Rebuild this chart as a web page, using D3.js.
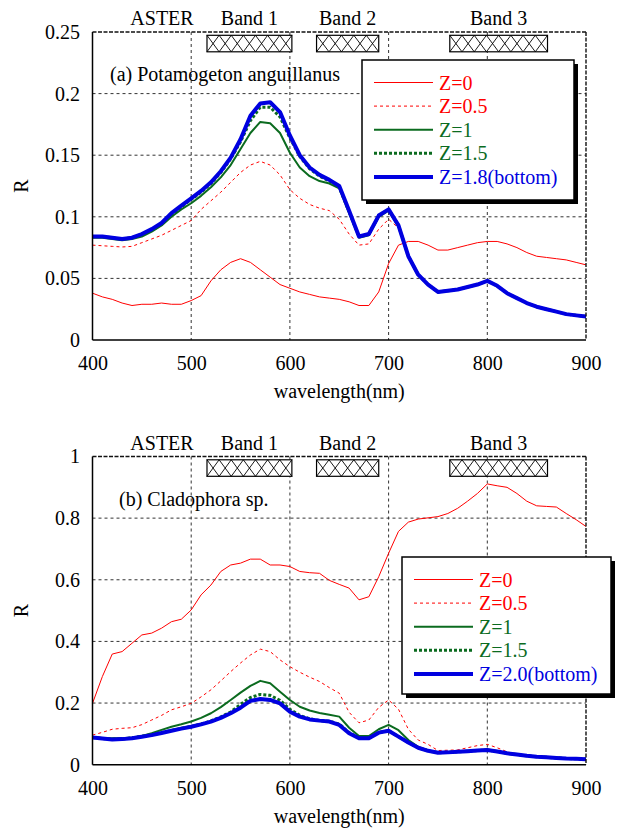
<!DOCTYPE html>
<html>
<head>
<meta charset="utf-8">
<script src="https://cdn.jsdelivr.net/npm/d3@7/dist/d3.min.js"></script>
<style>
body { margin: 0; background: #fff; }
svg text { font-family: "Liberation Serif", "Times New Roman", serif; }
</style>
</head>
<body>
<svg id="chart"></svg>
<script>
// wavelength grid (nm)
var wavelengths = [400,410,420,430,440,450,460,470,480,490,
                   500,510,520,530,540,550,560,570,580,590,
                   600,610,620,630,640,650,660,670,680,690,
                   700,710,720,730,740,750,760,770,780,790,
                   800,810,820,830,840,850,860,870,880,890,900]
var xTicks = [400,500,600,700,800,900]
var xGrid = [500,600,700,800]

// ASTER bands as drawn in the figure
var bandNames = ["Band 1","Band 2","Band 3"]
var bandStart = [516,627,762]
var bandEnd = [602,690,861]

// (a) Potamogeton anguillanus
var topTicks = [0,0.05,0.1,0.15,0.2,0.25]
var topTickLabels = ["0","0.05","0.1","0.15","0.2","0.25"]
var topLabels = ["Z=0","Z=0.5","Z=1","Z=1.5","Z=1.8(bottom)"]
var topZ0 = [0.038,0.035,0.033,0.030,0.028,0.029,0.029,0.030,0.029,0.029,
             0.032,0.036,0.048,0.057,0.063,0.066,0.063,0.057,0.051,0.045,
             0.042,0.039,0.037,0.035,0.034,0.033,0.031,0.028,0.028,0.039,
             0.062,0.077,0.080,0.080,0.077,0.073,0.073,0.075,0.077,0.079,
             0.080,0.080,0.078,0.075,0.071,0.068,0.067,0.066,0.065,0.063,0.061]
var topZ05 = [0.077,0.0765,0.076,0.0755,0.076,0.079,0.082,0.085,0.089,0.093,
              0.097,0.106,0.113,0.120,0.128,0.136,0.142,0.145,0.142,0.134,
              0.122,0.115,0.110,0.107,0.105,0.098,0.086,0.077,0.078,0.090,
              0.098,0.091,0.069,0.053,0.045,0.039,0.040,0.041,0.043,0.045,
              0.048,0.044,0.038,0.034,0.030,0.027,0.025,0.023,0.021,0.020,0.019]
var topZ1 = [0.083,0.083,0.082,0.081,0.082,0.084,0.088,0.093,0.100,0.106,
             0.111,0.117,0.124,0.132,0.142,0.155,0.168,0.177,0.176,0.168,
             0.152,0.140,0.133,0.129,0.127,0.123,0.103,0.083,0.085,0.100,
             0.105,0.092,0.068,0.053,0.045,0.039,0.040,0.041,0.043,0.045,
             0.048,0.044,0.038,0.034,0.030,0.027,0.025,0.023,0.021,0.020,0.019]
var topZ15 = [0.084,0.084,0.083,0.082,0.083,0.086,0.089,0.094,0.102,0.108,
              0.114,0.120,0.127,0.136,0.147,0.161,0.178,0.189,0.189,0.181,
              0.164,0.149,0.139,0.133,0.129,0.124,0.104,0.084,0.086,0.101,
              0.106,0.093,0.068,0.053,0.045,0.039,0.040,0.041,0.043,0.045,
              0.048,0.044,0.038,0.034,0.030,0.027,0.025,0.023,0.021,0.020,0.019]
var topZ18 = [0.084,0.084,0.083,0.082,0.083,0.086,0.090,0.095,0.103,0.109,
              0.115,0.121,0.128,0.137,0.148,0.163,0.182,0.192,0.193,0.185,
              0.166,0.150,0.140,0.134,0.130,0.125,0.105,0.084,0.086,0.101,
              0.106,0.093,0.068,0.053,0.045,0.039,0.040,0.041,0.043,0.045,
              0.048,0.044,0.038,0.034,0.030,0.027,0.025,0.023,0.021,0.020,0.019]

// (b) Cladophora sp.
var botTicks = [0,0.2,0.4,0.6,0.8,1]
var botTickLabels = ["0","0.2","0.4","0.6","0.8","1"]
var botLabels = ["Z=0","Z=0.5","Z=1","Z=1.5","Z=2.0(bottom)"]
var botZ0 = [0.199,0.286,0.359,0.367,0.394,0.421,0.427,0.443,0.464,0.472,
             0.502,0.551,0.583,0.627,0.648,0.654,0.667,0.667,0.648,0.648,
             0.643,0.627,0.623,0.621,0.598,0.585,0.573,0.535,0.545,0.610,
             0.686,0.757,0.787,0.797,0.801,0.805,0.815,0.832,0.855,0.880,
             0.911,0.905,0.900,0.880,0.855,0.840,0.838,0.836,0.815,0.795,0.773]
var botZ05 = [0.096,0.105,0.115,0.118,0.120,0.130,0.145,0.160,0.178,0.188,
              0.199,0.220,0.243,0.272,0.302,0.330,0.356,0.375,0.367,0.340,
              0.318,0.300,0.284,0.270,0.250,0.232,0.170,0.136,0.145,0.186,
              0.210,0.180,0.115,0.080,0.066,0.046,0.047,0.048,0.055,0.062,
              0.066,0.055,0.042,0.034,0.029,0.025,0.023,0.022,0.020,0.019,0.018]
var botZ1 = [0.089,0.087,0.086,0.086,0.088,0.093,0.102,0.113,0.123,0.131,
             0.140,0.152,0.167,0.187,0.210,0.234,0.256,0.272,0.264,0.237,
             0.210,0.188,0.176,0.168,0.162,0.156,0.120,0.093,0.093,0.115,
             0.129,0.112,0.080,0.058,0.047,0.040,0.041,0.042,0.045,0.047,
             0.049,0.044,0.038,0.034,0.030,0.027,0.025,0.023,0.021,0.019,0.018]
var botZ15 = [0.088,0.085,0.083,0.083,0.087,0.092,0.097,0.104,0.111,0.118,
              0.124,0.132,0.142,0.155,0.171,0.196,0.218,0.228,0.225,0.209,
              0.180,0.160,0.149,0.143,0.141,0.132,0.104,0.087,0.087,0.105,
              0.110,0.091,0.072,0.055,0.045,0.039,0.040,0.042,0.044,0.046,
              0.048,0.043,0.037,0.033,0.029,0.026,0.024,0.022,0.020,0.019,0.018]
var botZ20 = [0.088,0.085,0.082,0.083,0.086,0.091,0.096,0.103,0.110,0.117,
              0.123,0.131,0.140,0.152,0.167,0.185,0.207,0.213,0.210,0.199,
              0.172,0.156,0.147,0.143,0.140,0.129,0.102,0.086,0.086,0.104,
              0.110,0.091,0.072,0.055,0.045,0.039,0.040,0.042,0.044,0.046,
              0.048,0.043,0.037,0.033,0.029,0.026,0.024,0.022,0.020,0.019,0.018]

var lineColors = ["#ff0000","#ff0000","#0b6b1f","#0b6b1f","#0000e0"]
var lineWidths = [1,1,2,3,4]
var lineDash = [null,"3,3",null,"3,2",null]

var screen = {width: 617, height: 831}
var plotLeft = 92.5, plotRight = 586

var svg = d3.select("#chart")
    .attr("width", screen.width)
    .attr("height", screen.height)

svg.append("rect").attr("width", screen.width).attr("height", screen.height).attr("fill", "#fff")

var xScale = d3.scaleLinear().domain([400, 900]).range([plotLeft, plotRight])

var drawPanel = function(p)
{
    var yScale = d3.scaleLinear().domain([0, p.yMax]).range([p.bottom, p.top])
    var g = svg.append("g")

    // grid
    g.selectAll(".vgrid").data(xGrid).enter().append("line")
        .attr("x1", function(d){ return xScale(d) })
        .attr("x2", function(d){ return xScale(d) })
        .attr("y1", p.top).attr("y2", p.bottom)
        .attr("stroke", "#333").attr("stroke-width", 1).attr("stroke-dasharray", "3,3")
    g.selectAll(".hgrid").data(p.ticks.slice(1, -1)).enter().append("line")
        .attr("x1", plotLeft).attr("x2", plotRight)
        .attr("y1", function(d){ return yScale(d) })
        .attr("y2", function(d){ return yScale(d) })
        .attr("stroke", "#333").attr("stroke-width", 1).attr("stroke-dasharray", "3,3")

    // ASTER band boxes (cross hatched)
    var bands = bandNames.map(function(name, i){ return {name: name, s: bandStart[i], e: bandEnd[i]} })
    bands.forEach(function(b)
    {
        var x0 = xScale(b.s), x1 = xScale(b.e)
        var y0 = p.top + 3.3, h = 16.5
        var n = Math.round((x1 - x0) / 12.2)
        var cw = (x1 - x0) / n
        g.append("rect").attr("x", x0).attr("y", y0).attr("width", x1 - x0).attr("height", h)
            .attr("fill", "#fff").attr("stroke", "#000").attr("stroke-width", 1.2)
        for (var i = 0; i < n; i++)
        {
            g.append("line").attr("x1", x0 + i*cw).attr("y1", y0).attr("x2", x0 + (i+1)*cw).attr("y2", y0 + h)
                .attr("stroke", "#000").attr("stroke-width", 0.9)
            g.append("line").attr("x1", x0 + (i+1)*cw).attr("y1", y0).attr("x2", x0 + i*cw).attr("y2", y0 + h)
                .attr("stroke", "#000").attr("stroke-width", 0.9)
        }
        g.append("text").attr("x", xScale((bandStart[0] + bandEnd[0]) / 2) + (x0 + x1) / 2 - xScale((bandStart[0] + bandEnd[0]) / 2))
            .attr("y", p.top - 7)
            .attr("text-anchor", "middle").attr("font-size", 20).text(b.name)
    })
    g.append("text").attr("x", 162).attr("y", p.top - 7)
        .attr("text-anchor", "middle").attr("font-size", 20).text("ASTER")

    // curves
    var line = d3.line()
        .x(function(d){ return xScale(d[0]) })
        .y(function(d){ return yScale(d[1]) })
    p.series.forEach(function(s, i)
    {
        g.append("path")
            .datum(wavelengths.map(function(w, j){ return [w, s[j]] }))
            .attr("d", line)
            .attr("fill", "none")
            .attr("stroke", lineColors[i])
            .attr("stroke-width", lineWidths[i])
            .attr("stroke-dasharray", lineDash[i])
            .attr("stroke-linejoin", "round")
    })

    // frame: solid left/bottom, dashed top/right
    g.append("line").attr("x1", plotLeft).attr("x2", plotRight).attr("y1", p.top).attr("y2", p.top)
        .attr("stroke", "#111").attr("stroke-width", 1.4).attr("stroke-dasharray", "4,1.5")
    g.append("line").attr("x1", plotRight).attr("x2", plotRight).attr("y1", p.top).attr("y2", p.bottom)
        .attr("stroke", "#111").attr("stroke-width", 1.4).attr("stroke-dasharray", "4,1.5")
    g.append("line").attr("x1", plotLeft).attr("x2", plotRight).attr("y1", p.bottom).attr("y2", p.bottom)
        .attr("stroke", "#000").attr("stroke-width", 1.5)
    g.append("line").attr("x1", plotLeft).attr("x2", plotLeft).attr("y1", p.top).attr("y2", p.bottom)
        .attr("stroke", "#000").attr("stroke-width", 1.5)

    // axes
    var xAxis = d3.axisBottom(xScale).tickValues(xTicks).tickSize(0).tickPadding(16)
    var yAxis = d3.axisLeft(yScale).tickValues(p.ticks).tickSize(0).tickPadding(12.5)
        .tickFormat(function(d, i){ return p.tickLabels[i] })
    var ax = g.append("g").attr("transform", "translate(0," + p.bottom + ")").call(xAxis)
    var ay = g.append("g").attr("transform", "translate(" + plotLeft + ",0)").call(yAxis)
    ax.select(".domain").remove()
    ay.select(".domain").remove()
    g.selectAll(".tick text").attr("font-size", 20).attr("fill", "#000")
        .attr("font-family", "Liberation Serif, Times New Roman, serif")

    g.append("text").attr("x", (plotLeft + plotRight) / 2).attr("y", p.bottom + 58)
        .attr("text-anchor", "middle").attr("font-size", 20).text("wavelength(nm)")
    g.append("text")
        .attr("transform", "translate(28," + ((p.top + p.bottom) / 2) + ") rotate(-90)")
        .attr("text-anchor", "middle").attr("font-size", 20).text("R")

    g.append("text").attr("x", p.titleX).attr("y", p.titleY).attr("font-size", 20).text(p.title)

    // legend with drop shadow
    var L = p.legend
    g.append("rect").attr("x", L.x + 4).attr("y", L.y + 4).attr("width", L.w).attr("height", L.h).attr("fill", "#000")
    g.append("rect").attr("x", L.x).attr("y", L.y).attr("width", L.w).attr("height", L.h)
        .attr("fill", "#fff").attr("stroke", "#000").attr("stroke-width", 1.5)
    p.labels.forEach(function(lab, i)
    {
        var cy = L.y + 22.5 + i * 23.6
        g.append("line").attr("x1", L.x + 12).attr("x2", L.x + 71).attr("y1", cy).attr("y2", cy)
            .attr("stroke", lineColors[i]).attr("stroke-width", lineWidths[i]).attr("stroke-dasharray", lineDash[i])
        g.append("text").attr("x", L.x + 77).attr("y", cy + 7).attr("font-size", 20)
            .attr("fill", lineColors[i]).text(lab)
    })
}

drawPanel({
    top: 32, bottom: 340, yMax: 0.25,
    ticks: topTicks, tickLabels: topTickLabels,
    series: [topZ0, topZ05, topZ1, topZ15, topZ18], labels: topLabels,
    title: "(a) Potamogeton anguillanus", titleX: 110, titleY: 80.5,
    legend: {x: 362, y: 60, w: 212, h: 140}
})
drawPanel({
    top: 456.5, bottom: 764.7, yMax: 1,
    ticks: botTicks, tickLabels: botTickLabels,
    series: [botZ0, botZ05, botZ1, botZ15, botZ20], labels: botLabels,
    title: "(b) Cladophora sp.", titleX: 119, titleY: 506,
    legend: {x: 402, y: 557, w: 209, h: 137}
})
</script>
</body>
</html>
